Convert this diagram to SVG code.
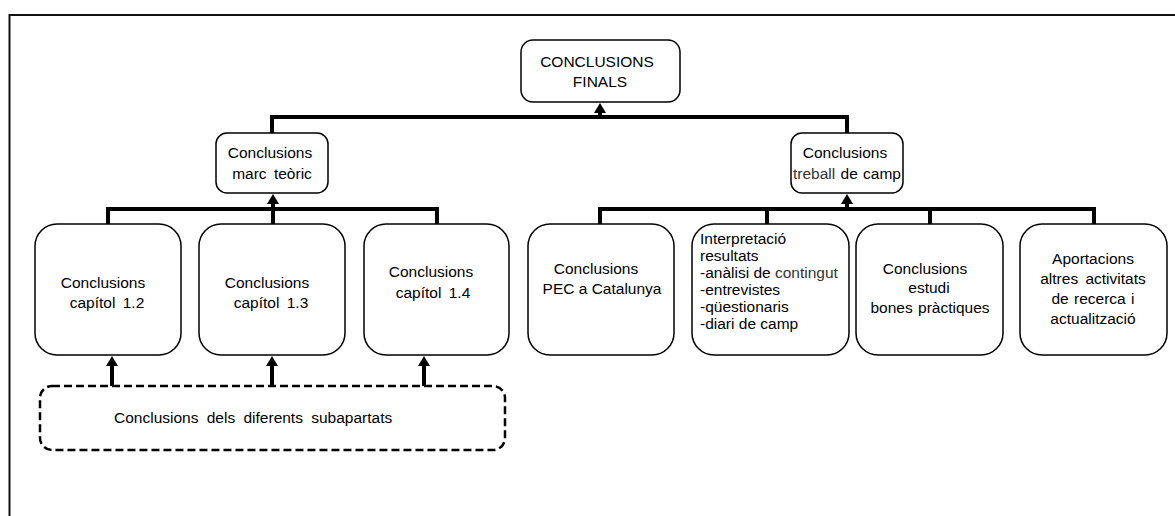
<svg xmlns="http://www.w3.org/2000/svg" width="1175" height="516" viewBox="0 0 1175 516">
<style>
text{font-family:"Liberation Sans",Arial,sans-serif;font-size:15.5px;fill:#000;word-spacing:3px}
.c{text-anchor:middle}
.box{fill:#fff;stroke:#000;stroke-width:1.5}
.dash{fill:#fff;stroke:#000;stroke-width:2.5;stroke-dasharray:8 4}
.bar{stroke:#000;stroke-width:4;fill:none}
.arr{stroke:#000;stroke-width:4;fill:none;marker-end:url(#ah)}
.lt{fill:#333}
</style>
<defs>
<marker id="ah" markerUnits="userSpaceOnUse" markerWidth="11" markerHeight="12" refX="1" refY="6" orient="auto">
<path d="M0,0 L10,6 L0,12 z" fill="#000"/>
</marker>
</defs>
<rect width="1175" height="516" fill="#fff"/>
<path d="M9.5,516 V15 H1175" fill="none" stroke="#111" stroke-width="2"/>
<g id="connectors">
<path class="bar" d="M272,133 V117 H600"/>
<path class="bar" d="M600,117 H847 V133" stroke-width="3.5"/>
<line class="arr" x1="600" y1="117" x2="600" y2="112"/>
<path class="bar" d="M108,225 V209 H437 V225 M273,209 V225"/>
<line class="arr" x1="273" y1="209" x2="273" y2="203"/>
<path class="bar" d="M600,224 V209 H1094 V224 M767,209 V224 M930,209 V224"/>
<line class="arr" x1="847" y1="209" x2="847" y2="203"/>
<line class="arr" x1="112" y1="386" x2="112" y2="365"/>
<line class="arr" x1="272" y1="386" x2="272" y2="365"/>
<line class="arr" x1="424" y1="386" x2="424" y2="365"/>
</g>
<g id="n-finals">
<rect class="box" x="521" y="40" width="159" height="62" rx="12"/>
<text class="c" x="597" y="67">CONCLUSIONS</text>
<text class="c" x="600" y="87">FINALS</text>
</g>
<g id="n-marc">
<rect class="box" x="216" y="133" width="112" height="60" rx="11"/>
<text class="c" x="270" y="158">Conclusions</text>
<text class="c" x="272" y="179">marc teòric</text>
</g>
<g id="n-camp">
<rect class="box" x="791" y="133" width="112" height="60" rx="11"/>
<text class="c" x="845" y="158">Conclusions</text>
<text class="c" x="847" y="179" style="word-spacing:1px"><tspan class="lt">treball</tspan> de camp</text>
</g>
<g id="n-cap12">
<rect class="box" x="35" y="224" width="146" height="131" rx="22"/>
<text class="c" x="103" y="288">Conclusions</text>
<text class="c" x="107" y="308">capítol 1.2</text>
</g>
<g id="n-cap13">
<rect class="box" x="199" y="224" width="146" height="131" rx="22"/>
<text class="c" x="267" y="288">Conclusions</text>
<text class="c" x="271" y="308">capítol 1.3</text>
</g>
<g id="n-cap14">
<rect class="box" x="364" y="224" width="145" height="131" rx="22"/>
<text class="c" x="431" y="277">Conclusions</text>
<text class="c" x="433" y="298">capítol 1.4</text>
</g>
<g id="n-pec">
<rect class="box" x="528" y="224" width="146" height="131" rx="22"/>
<text class="c" x="596" y="274">Conclusions</text>
<text class="c" x="602" y="294" style="word-spacing:0">PEC a Catalunya</text>
</g>
<g id="n-interp">
<rect class="box" x="692" y="224" width="157" height="131" rx="22"/>
<text x="700" y="244" style="word-spacing:0">Interpretació</text>
<text x="700" y="261" style="word-spacing:0">resultats</text>
<text x="700" y="278" style="word-spacing:0">-anàlisi de <tspan class="lt">contingut</tspan></text>
<text x="700" y="295" style="word-spacing:0">-entrevistes</text>
<text x="700" y="312" style="word-spacing:0">-qüestionaris</text>
<text x="700" y="329" style="word-spacing:0">-diari de camp</text>
</g>
<g id="n-bones">
<rect class="box" x="856" y="224" width="147" height="131" rx="22"/>
<text class="c" x="925" y="274">Conclusions</text>
<text class="c" x="929" y="293">estudi</text>
<text class="c" x="930" y="313" style="word-spacing:1px">bones pràctiques</text>
</g>
<g id="n-aport">
<rect class="box" x="1020" y="224" width="147" height="131" rx="22"/>
<text class="c" x="1093" y="264">Aportacions</text>
<text class="c" x="1093" y="284">altres activitats</text>
<text class="c" x="1093" y="304" style="word-spacing:1px">de recerca i</text>
<text class="c" x="1093" y="324">actualització</text>
</g>
<g id="n-sub">
<rect class="dash" x="40" y="386" width="465" height="64" rx="12"/>
<text x="114" y="423" style="word-spacing:4px">Conclusions dels diferents subapartats</text>
</g>
</svg>
